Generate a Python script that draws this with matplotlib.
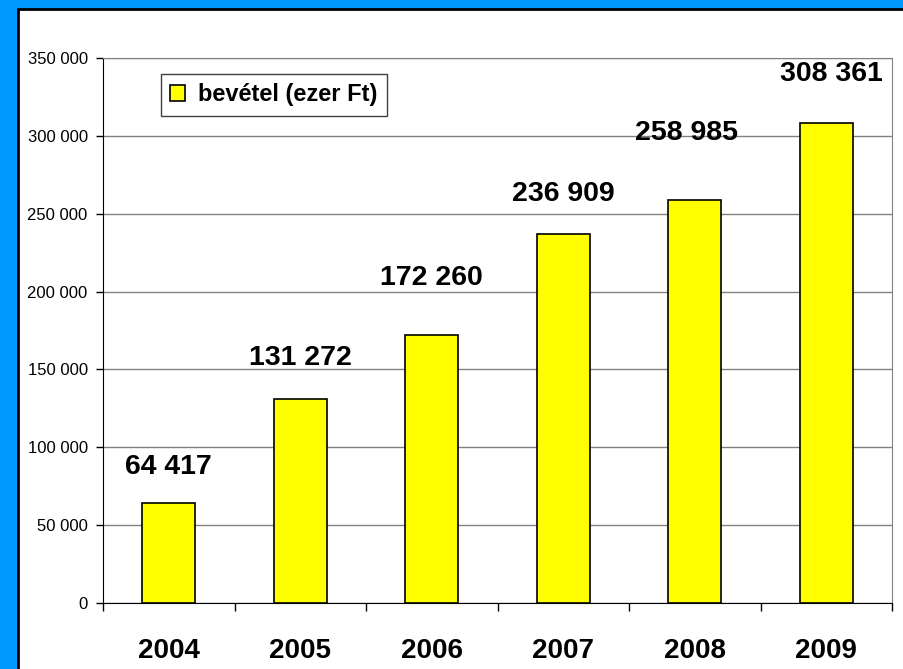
import numpy as np
import matplotlib.pyplot as plt
from matplotlib.patches import Rectangle
from matplotlib.ticker import FuncFormatter

plt.rcParams['font.family'] = ['Liberation Sans', 'DejaVu Sans']

# Adatok
years = ['2004', '2005', '2006', '2007', '2008', '2009']
revenue = [64417, 131272, 172260, 236909, 258985, 308361]
value_labels = ['64 417', '131 272', '172 260', '236 909', '258 985', '308 361']

# feliratok eltolása (pont) a oszlop tetejéhez képest
label_dx = [0, 0, 0, 0, -6, 4]
label_dy = [26, 29, 41, 29, 48, 35]

fig = plt.figure(figsize=(9.04, 6.69), dpi=100)
fig.patch.set_facecolor('#0099FF')
fig.patches.append(Rectangle((18 / 904, -0.01), 1.0, (669 - 9) / 669 + 0.01,
                             transform=fig.transFigure, facecolor='white',
                             edgecolor='black', linewidth=2, zorder=-1))

ax = fig.add_axes([103 / 904, 66 / 669, 789 / 904, 545 / 669])
ax.set_facecolor('white')

x = np.arange(len(years))
bars = ax.bar(x, revenue, width=0.4, color='#FFFF00', edgecolor='black',
              linewidth=1.2, label='bevétel (ezer Ft)', zorder=3)

for xi, v, t, dx, dy in zip(x, revenue, value_labels, label_dx, label_dy):
    ax.annotate(t, (xi, v), xytext=(dx, dy), textcoords='offset points',
                ha='center', va='center', fontsize=20.5, fontweight='bold')

ax.set_xlim(-0.5, len(years) - 0.5)
ax.set_ylim(0, 350000)
ax.set_yticks(np.arange(0, 350001, 50000))
ax.yaxis.set_major_formatter(FuncFormatter(lambda v, p: f'{int(v):,}'.replace(',', ' ')))
ax.tick_params(axis='y', direction='out', length=5, width=1, labelsize=12, pad=6)
ax.grid(axis='y', color='#808080', linewidth=1, zorder=0)

ax.set_xticks(np.arange(-0.5, len(years)), labels=[])
ax.set_xticks(x, labels=years, minor=True)
ax.tick_params(axis='x', which='major', direction='out', length=6, width=1)
ax.tick_params(axis='x', which='minor', length=0, pad=25, labelsize=20)
for lab in ax.get_xticklabels(minor=True):
    lab.set_fontweight('bold')

ax.spines['left'].set_color('black')
ax.spines['bottom'].set_color('black')
ax.spines['top'].set_color('#808080')
ax.spines['right'].set_color('#808080')

leg = ax.legend(loc='upper left', bbox_to_anchor=(58 / 789, 1 - 16 / 545),
                borderaxespad=0, prop={'weight': 'bold', 'size': 17},
                fancybox=False, framealpha=1, edgecolor='#404040',
                handlelength=0.63, handleheight=0.63, handletextpad=0.55,
                borderpad=0.4)
leg.get_frame().set_linewidth(1)

fig.savefig('out.png', dpi=100, facecolor=fig.get_facecolor())
